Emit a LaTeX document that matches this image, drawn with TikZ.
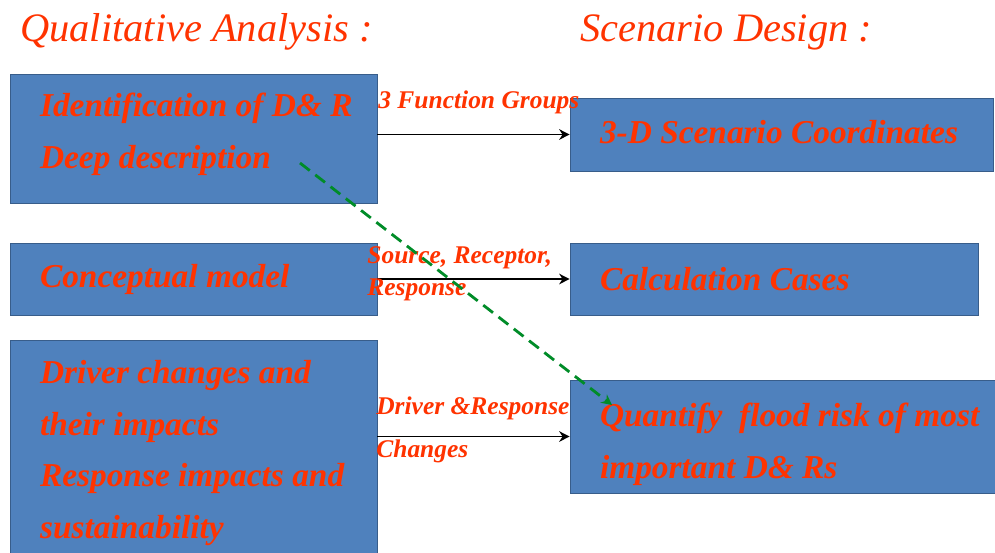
\documentclass[tikz,border=0pt]{standalone}
\usepackage{fontspec}
\setmainfont{Liberation Serif}
\usepackage{tikz}
\usetikzlibrary{arrows.meta}
\definecolor{boxblue}{RGB}{79,129,189}
\definecolor{boxedge}{RGB}{56,93,138}
\definecolor{textred}{RGB}{255,51,0}
\definecolor{dashgreen}{RGB}{0,140,40}
\begin{document}
\begin{tikzpicture}[x=0.02cm,y=-0.02cm,>={Stealth[length=6pt,width=6pt]},
    box/.style={draw=boxedge,fill=boxblue,inner sep=0pt},
    boxtext/.style={anchor=west,inner sep=0pt,align=left,text=textred,
        font=\fontsize{19}{29.4}\selectfont\bfseries\itshape},
    lbl/.style={anchor=base west,inner sep=0pt,text=textred,font=\fontsize{14.5}{17}\selectfont\bfseries\itshape},
    title/.style={anchor=base west,inner sep=0pt,text=textred,font=\fontsize{23}{26}\selectfont\itshape}]
    \clip (0,0) rectangle (995,552);
    \fill[white] (0,0) rectangle (995,552);
    % titles
    \node[title] (qual) at (20,41) {Qualitative Analysis :};
    \node[title] (scen) at (580,41) {Scenario Design :};
    % left column
    \node[box,minimum width=7.34cm,minimum height=2.58cm] (ident) at (193.5,138.5) {};
    \node[box,minimum width=7.34cm,minimum height=1.44cm] (concept) at (193.5,279) {};
    \node[box,minimum width=7.34cm,minimum height=4.4cm] (driver) at (193.5,450) {};
    % right column
    \node[box,minimum width=8.46cm,minimum height=1.46cm] (coord) at (781.5,134.5) {};
    \node[box,minimum width=8.16cm,minimum height=1.44cm] (calc) at (774,279) {};
    \node[box,minimum width=8.6cm,minimum height=2.26cm] (quant) at (785,436.5) {};
    % box texts
    \node[boxtext] (identtxt) at ([xshift=0.6cm,yshift=0.09cm]ident.west)
        {Identification of D\& R\\Deep description};
    \node[boxtext] (concepttxt) at ([xshift=0.6cm]concept.west) {Conceptual model};
    \node[boxtext] (drivertxt) at ([xshift=0.6cm,yshift=-0.06cm]driver.west)
        {Driver changes and\\their impacts\\Response impacts and\\sustainability};
    \node[boxtext] (coordtxt) at ([xshift=0.6cm,yshift=0.05cm]coord.west) {3-D Scenario Coordinates};
    \node[boxtext] (calctxt) at ([xshift=0.6cm]calc.west) {Calculation Cases};
    \node[boxtext] (quanttxt) at ([xshift=0.6cm,yshift=-0.16cm]quant.west)
        {Quantify\ \ flood risk of most\\important D\& Rs};
    % connectors
    \draw[->,line width=1pt] (coord.west -| ident.east) -- (coord.west);
    \draw[->,line width=1pt] (calc.west -| concept.east) -- (calc.west);
    \draw[->,line width=1pt] (quant.west -| driver.east) -- (quant.west);
    \node[lbl] (fg) at (378,108) {3 Function Groups};
    \node[lbl] (src) at (367,263) {Source, Receptor,};
    \node[lbl] (resp) at (367,295) {Response};
    \node[lbl] (drv) at (376,414) {Driver \&Response};
    \node[lbl] (chg) at (376,457) {Changes};
    \coordinate (deep) at (300,163);
    \coordinate (qtip) at (612,405);
    \draw[->,dashgreen,line width=1.6pt,dash pattern=on 7pt off 4pt] (deep) -- (qtip);
\end{tikzpicture}
\end{document}
